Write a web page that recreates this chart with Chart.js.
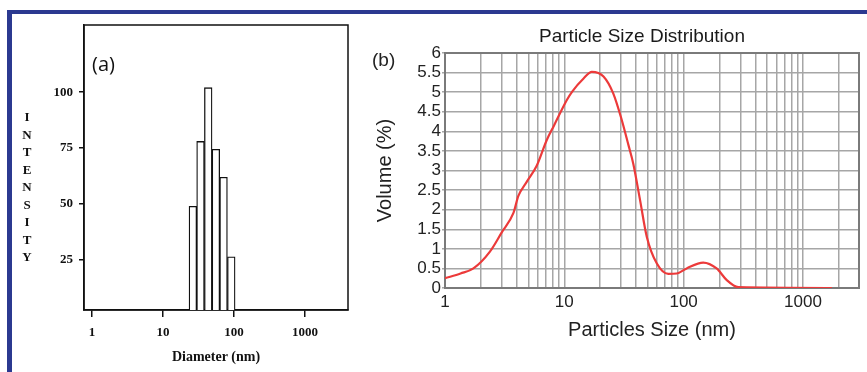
<!DOCTYPE html>
<html><head><meta charset="utf-8">
<script src="https://cdn.jsdelivr.net/npm/chart.js@4/dist/chart.umd.min.js"></script>
<style>
html,body{margin:0;padding:0;width:867px;height:372px;overflow:hidden;background:#fff;}
#frame{position:absolute;left:7px;top:10px;width:900px;height:400px;border-top:4px solid #2b3990;border-left:5px solid #2b3990;box-sizing:border-box;}
canvas{position:absolute;top:0;}
#ca{left:0;}
#cb{left:365px;}
.lbl{position:absolute;white-space:nowrap;}
#la{left:92px;top:53px;font:20px/22px "Open Sans",sans-serif;color:#111;}
#lb{left:372px;top:49px;font:19px/22px "Liberation Sans",sans-serif;color:#222;}
#intensity{left:20px;top:108px;width:14px;text-align:center;font:bold 13px/17.5px "Liberation Serif",serif;color:#111;}
</style></head><body>
<div id="frame"></div>
<canvas id="ca" width="365" height="372"></canvas>
<canvas id="cb" width="510" height="372"></canvas>
<div class="lbl" id="la">(a)</div>
<div class="lbl" id="lb">(b)</div>
<div class="lbl" id="intensity">I<br>N<br>T<br>E<br>N<br>S<br>I<br>T<br>Y</div>
<script>
// ---- Panel (a): intensity histogram ----
const diameterA = [26.3, 33.7, 43.3, 55.5, 71.2, 91.4];
const intensityA = [49, 78, 102, 74.5, 62, 26.5];
const xTicksA = [1, 10, 100, 1000];
const yTicksA = [25, 50, 75, 100];

// ---- Panel (b): particle size distribution ----
const sizeB = [1, 1.35, 1.73, 2.38, 2.99, 3.74, 4.12, 4.84, 5.87, 7.13, 8.2, 10.5, 11.6, 14.5, 17.0, 21.3, 25.7, 30.3, 34.4, 37.8, 43.1, 49.1, 59.5, 74.4, 87.5, 106, 146, 189, 230, 287, 1750];
const volumeB = [0.25, 0.37, 0.50, 0.93, 1.42, 1.91, 2.35, 2.71, 3.12, 3.78, 4.15, 4.80, 5.01, 5.35, 5.52, 5.40, 4.97, 4.29, 3.66, 3.18, 2.25, 1.31, 0.63, 0.36, 0.37, 0.50, 0.65, 0.50, 0.20, 0.02, 0];
const xGridB = [1,2,3,4,5,6,7,8,9,10,20,30,40,50,60,70,80,90,100,200,300,400,500,600,700,800,900,1000,2000];
const xTickLabelsB = [1, 10, 100, 1000];
const yTicksB = [0,0.5,1,1.5,2,2.5,3,3.5,4,4.5,5,5.5,6];

const framePlugin = {
  id: 'frame',
  beforeDatasetsDraw(chart, args, opts) {
    const {ctx, chartArea: a} = chart;
    ctx.save();
    ctx.strokeStyle = opts.color;
    ctx.lineWidth = opts.width;
    ctx.strokeRect(a.left, a.top, a.right - a.left, a.bottom - a.top);
    ctx.restore();
  }
};

const serifBold = (size) => ({family: '"Liberation Serif", serif', weight: 'bold', size: size});
const sans = (size) => ({family: '"Liberation Sans", Arial, sans-serif', size: size, weight: 'normal'});

new Chart(document.getElementById('ca'), {
  type: 'bar',
  data: {
    datasets: [{
      data: diameterA.map((d, i) => ({x: d, y: intensityA[i]})),
      backgroundColor: '#ffffff',
      borderColor: '#111111',
      borderWidth: 1.3,
      barPercentage: 1,
      categoryPercentage: 1
    }]
  },
  options: {
    responsive: false,
    animation: false,
    layout: {padding: {top: 25, right: 17, left: 0, bottom: 0}},
    plugins: {legend: {display: false}, tooltip: {enabled: false}, frame: {color: '#111', width: 1.5}},
    scales: {
      x: {
        type: 'logarithmic',
        min: 0.77, max: 4030,
        offset: false,
        afterBuildTicks: (s) => { s.ticks = xTicksA.map(v => ({value: v})); },
        afterFit: (s) => { s.height = 62; },
        grid: {offset: false, drawOnChartArea: false, drawTicks: true, tickLength: 7, color: '#111', lineWidth: 1.5},
        border: {display: true, color: '#111', width: 1.5},
        ticks: {autoSkip: false, maxRotation: 0, padding: 8, color: '#111', font: serifBold(13), callback: (v) => String(v)},
        title: {display: true, text: 'Diameter (nm)', color: '#111', font: serifBold(14), padding: {top: 0, bottom: 6.6}}
      },
      y: {
        type: 'linear',
        min: 2.7, max: 130,
        afterBuildTicks: (s) => { s.ticks = yTicksA.map(v => ({value: v})); },
        afterFit: (s) => { s.width = 84; },
        grid: {drawOnChartArea: false, drawTicks: true, tickLength: 5, color: '#111', lineWidth: 1.5},
        border: {display: true, color: '#111', width: 1.5},
        ticks: {autoSkip: false, padding: 6, color: '#111', font: serifBold(13), callback: (v) => String(v)}
      }
    }
  },
  plugins: [framePlugin]
});

new Chart(document.getElementById('cb'), {
  type: 'line',
  data: {
    datasets: [{
      data: sizeB.map((s, i) => ({x: s, y: volumeB[i]})),
      borderColor: '#ec3a3a',
      borderWidth: 2.2,
      pointRadius: 0,
      fill: false,
      cubicInterpolationMode: 'monotone'
    }]
  },
  options: {
    responsive: false,
    animation: false,
    layout: {padding: {top: 0, right: 3, left: 47, bottom: 0}},
    plugins: {
      legend: {display: false}, tooltip: {enabled: false},
      title: {display: true, text: 'Particle Size Distribution', color: '#1a1a1a', font: sans(19), padding: {top: 25.6, bottom: 4.6}},
      frame: {color: '#7a7a7a', width: 2}
    },
    scales: {
      x: {
        type: 'logarithmic',
        min: 1, max: 2950,
        afterBuildTicks: (s) => { s.ticks = xGridB.map(v => ({value: v})); },
        afterFit: (s) => { s.height = 84; },
        grid: {drawTicks: false, color: '#a6a6a6', lineWidth: 1.5},
        border: {display: true, color: '#7a7a7a', width: 2},
        ticks: {autoSkip: false, maxRotation: 0, padding: 4, color: '#222', font: sans(17),
          callback: (v) => xTickLabelsB.includes(v) ? String(v) : ''},
        title: {display: true, text: 'Particles Size (nm)', color: '#222', font: sans(20), padding: {top: 0, bottom: 30}}
      },
      y: {
        type: 'linear',
        min: 0, max: 6,
        afterBuildTicks: (s) => { s.ticks = yTicksB.map(v => ({value: v})); },
        afterFit: (s) => { s.width = 33; },
        grid: {drawTicks: true, tickLength: 3, color: '#a6a6a6', lineWidth: 1.5},
        border: {display: true, color: '#7a7a7a', width: 2},
        ticks: {autoSkip: false, padding: 1, color: '#222', font: sans(17), callback: (v) => String(v)},
        title: {display: true, text: 'Volume (%)', color: '#222', font: sans(20), padding: {top: -39, bottom: 0}}
      },
      yRight: {
        type: 'linear',
        position: 'right',
        display: true,
        min: 0, max: 6,
        afterFit: (s) => { s.width = 13; },
        grid: {display: false, drawTicks: false},
        border: {display: false},
        ticks: {display: false}
      }
    }
  },
  plugins: [framePlugin]
});
</script>
</body></html>
